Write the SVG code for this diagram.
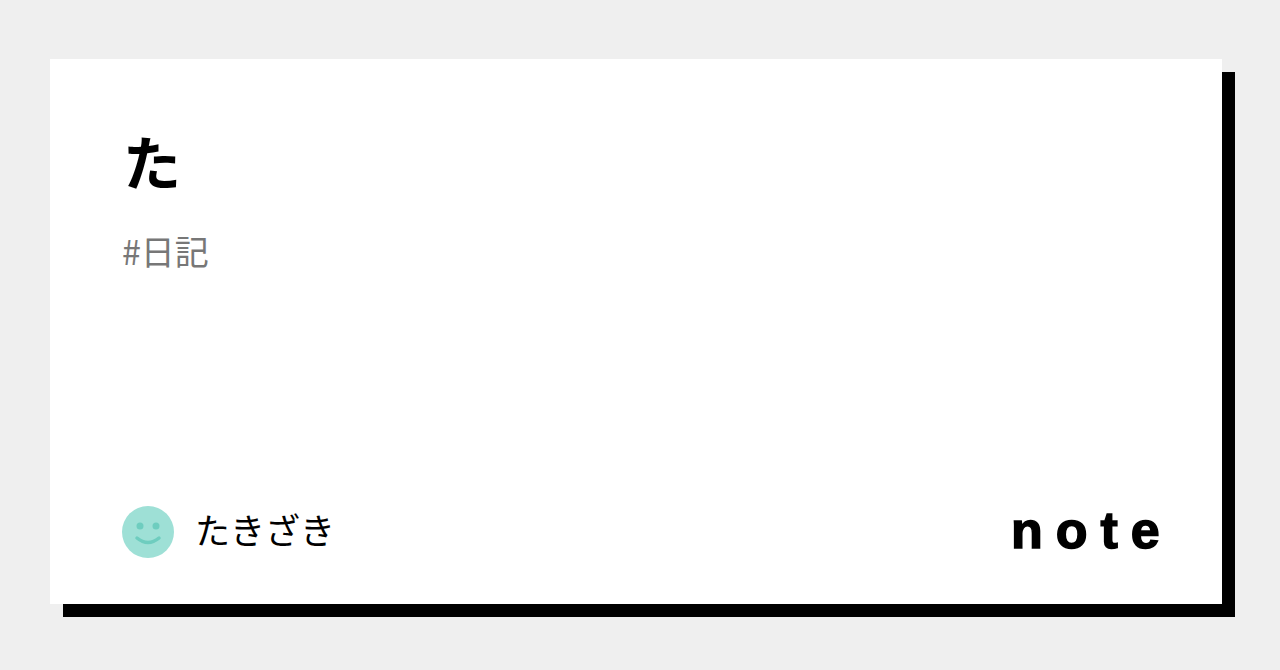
<svg xmlns="http://www.w3.org/2000/svg" width="1280" height="670" viewBox="0 0 1280 670">
<style>
.jp{font-family:"Noto Sans CJK JP","Noto Sans",sans-serif}
</style>
<rect width="1280" height="670" fill="#efefef"/>
<g id="card">
<rect x="63" y="72" width="1172" height="545" fill="#000"/>
<rect x="50" y="59" width="1172" height="545" fill="#fff"/>
</g>
<g id="title"><text x="123" y="185" class="jp" font-size="58" font-weight="700" fill="#000">た</text></g>
<g id="tag"><text x="122" y="265" class="jp" font-size="34" fill="#777">#日記</text></g>
<g id="author">
<circle cx="148" cy="532" r="26" fill="#9ee0d6"/>
<circle cx="140" cy="526" r="3.5" fill="#6ecdbf"/>
<circle cx="156" cy="526" r="3.5" fill="#6ecdbf"/>
<path d="M137 538 Q148 547 159 538" fill="none" stroke="#6ecdbf" stroke-width="3.5" stroke-linecap="round"/>
<text x="195" y="544" class="jp" font-size="35" fill="#000">たきざき</text>
</g>
<g id="logo"><text x="1011" y="548" font-family="Liberation Sans, sans-serif" font-size="52" font-weight="700" letter-spacing="13" fill="#000" stroke="#000" stroke-width="1.5">note</text></g>
</svg>
